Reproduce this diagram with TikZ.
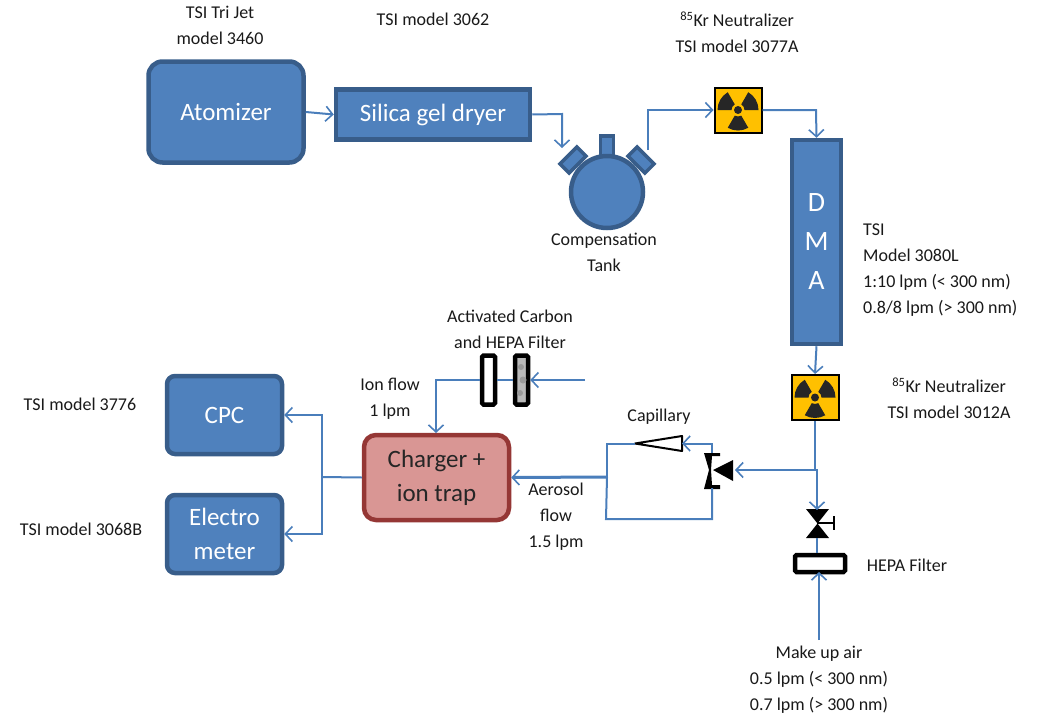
\documentclass[tikz,border=0pt]{standalone}
\usepackage{fontspec}
\setmainfont{Carlito}
\usetikzlibrary{arrows.meta}
\definecolor{boxblue}{HTML}{4F81BD}
\definecolor{boxedge}{HTML}{385D8A}
\definecolor{flowblue}{HTML}{4A7EBB}
\definecolor{chargerfill}{HTML}{D99694}
\definecolor{chargeredge}{HTML}{953735}
\definecolor{radyellow}{HTML}{FFC000}
\tikzset{
  note/.style={align=center,font=\fontsize{18}{26}\selectfont,text=black!90,inner sep=0pt},
  unit/.style={draw=boxedge,fill=boxblue,line width=4.5pt,text=white,align=center,inner sep=0pt,font=\fontsize{25}{34}\selectfont},
  flow/.style={draw=flowblue,line width=2pt,-{Straight Barb[length=7pt,width=15pt,line width=1.6pt]}},
  pipe/.style={draw=flowblue,line width=2pt},
  neck/.style={draw=boxedge,fill=boxblue,line width=3.5pt,minimum width=13pt,minimum height=24pt,inner sep=0pt},
  radbox/.style={draw=black,fill=radyellow,line width=2pt,minimum width=47pt,minimum height=45pt,inner sep=0pt},
  filt/.style={draw=black,fill=white,line width=4.5pt,rounded corners=1.5pt,inner sep=0pt},
}
\newcommand{\radsign}[1]{%
  \foreach \a in {30,150,270}
    \fill[black!85] (#1) ++(\a-30:6.5pt) arc (\a-30:\a+30:6.5pt) -- ++(\a+30:14pt) arc (\a+30:\a-30:20.5pt) -- cycle;
  \fill[black!85] (#1) circle (4pt);}
\begin{document}
\begin{tikzpicture}[x=1pt,y=-1pt]
\useasboundingbox (0,0) rectangle (1044,718);
% Top row
\node[unit,rounded corners=14pt,minimum width=155pt,minimum height=101pt] (atomizer) at (226,112) {Atomizer};
\node[unit,minimum width=194pt,minimum height=50pt] (dryer) at (433,114.5) {Silica gel dryer};
\node[neck] (neckc) at (607,148) {};
\node[neck,rotate=-45] (neckl) at (573,160) {};
\node[neck,rotate=45] (neckr) at (641,160) {};
\node[unit,circle,minimum size=72pt] (tank) at (607,192) {};
\node[radbox] (neutra) at (738,110) {};
\radsign{neutra.center}
\node[unit,minimum width=49pt,minimum height=204pt,font=\fontsize{28}{39}\selectfont] (dma) at (816.5,242) {D\\M\\A};
\node[radbox] (neutrb) at (815,397.5) {};
\radsign{neutrb.center}
% Instruments
\node[unit,rounded corners=8pt,minimum width=115pt,minimum height=78pt] (cpc) at (224.5,415) {CPC};
\node[unit,rounded corners=8pt,minimum width=115pt,minimum height=78pt] (elec) at (224.5,534) {Electro\\meter};
\node[unit,draw=chargeredge,fill=chargerfill,text=black!85,rounded corners=12pt,minimum width=145pt,minimum height=85pt] (charger) at (436.5,477.5) {Charger +\\ion trap};
% Filters
\node[filt,minimum width=13pt,minimum height=49pt] (filta) at (488.5,380) {};
\node[filt,fill=gray!55,minimum width=13pt,minimum height=49pt] (filtb) at (521.5,380) {};
\fill[gray!80] (521,367) circle (3pt) (523,380) circle (3.5pt) (520,393) circle (3pt);
\node[filt,minimum width=50pt,minimum height=17pt] (filtc) at (820,563.5) {};
% Capillary and valves
\coordinate (capin) at (682,443.5);
\coordinate (capout) at (635,443.5);
\draw[black,line width=2pt,fill=white,line join=round] (capout) -- (682,436) -- (682,451) -- cycle;
\coordinate (vtop) at (712,453);
\coordinate (vbot) at (712,488);
\coordinate (vin) at (735,470);
\fill[black] (704,453) -- (720,453) -- (720,456) -- (712,456) -- (711,470) -- (712,485) -- (720,485) -- (720,489) -- (704,489) -- (709,470) -- cycle;
\fill[black] (713,470) -- (733,460) -- (733,481) -- cycle;
\coordinate (valvet) at (817,510);
\coordinate (valveb) at (817,538);
\fill[black] (806,509) -- (829,509) -- (806,538) -- (829,538) -- cycle;
\draw[black,line width=2pt] (817,523) -- (833,523) (834,516) -- (834,530);
% Flow lines
\coordinate (makeup) at (819,640);
\coordinate (cleanin) at (585,380);
\coordinate (split) at (607,477);
\coordinate (tee) at (815,470);
\coordinate (join) at (322,477);
\draw[flow] (atomizer.east) -- (dryer.west);
\draw[flow] (dryer.east) -- (562,114) -- (562,148);
\draw[flow] (648,150) |- (neutra.west);
\draw[flow] (neutra.east) -- (816,110) -- (dma.north);
\draw[flow] (dma.south) -- (neutrb.north);
\draw[pipe] (neutrb.south) -- (tee);
\draw[flow] (tee) -- (vin);
\draw[flow] (tee) -- (817,470) -- (valvet);
\draw[pipe] (valveb) -- (filtc.north-|valveb);
\draw[flow] (makeup) -- (819,572);
\draw[flow] (cleanin) -- (filtb.east);
\draw[pipe] (filtb.west) -- (filta.east);
\draw[flow] (filta.west) -- (436,380) -- (436,433);
\draw[flow] (vtop) |- (capin);
\draw[pipe] (capout) -| (split);
\draw[pipe] (vbot) |- (606,519) -- (split);
\draw[flow,line width=3pt] (split) -- (charger.east);
\draw[pipe] (charger.west) -- (join);
\draw[flow] (join) |- (cpc.east);
\draw[flow] (join) |- (elec.east);
% Labels
\node[note] (ltrijet) at (220,25) {TSI Tri Jet\\model 3460};
\node[note] (ldryer) at (433,19) {TSI model 3062};
\node[note] (lneutra) at (737,32) {\textsuperscript{85}Kr Neutralizer\\TSI model 3077A};
\node[note] (ltank) at (604,252) {Compensation\\Tank};
\node[note,align=left,anchor=west] (ldma) at (863,270) {TSI\\Model 3080L\\1:10 lpm (< 300 nm)\\0.8/8 lpm (> 300 nm)};
\node[note] (lneutrb) at (949,398) {\textsuperscript{85}Kr Neutralizer\\TSI model 3012A};
\node[note] (lcarbon) at (510,329) {Activated Carbon\\and HEPA Filter};
\node[note] (lion) at (390,399) {Ion flow\\1 lpm};
\node[note] (lcpc) at (80,404) {TSI model 3776};
\node[note] (lelec) at (81,529) {TSI model 3068B};
\node[note] (lcap) at (659,417) {Capillary};
\node[note] (laero) at (556,517) {Aerosol\\flow\\1.5 lpm};
\node[note] (lhepa) at (907,565) {HEPA Filter};
\node[note] (lmake) at (819,680) {Make up air\\0.5 lpm (< 300 nm)\\0.7 lpm (> 300 nm)};
\end{tikzpicture}
\end{document}
